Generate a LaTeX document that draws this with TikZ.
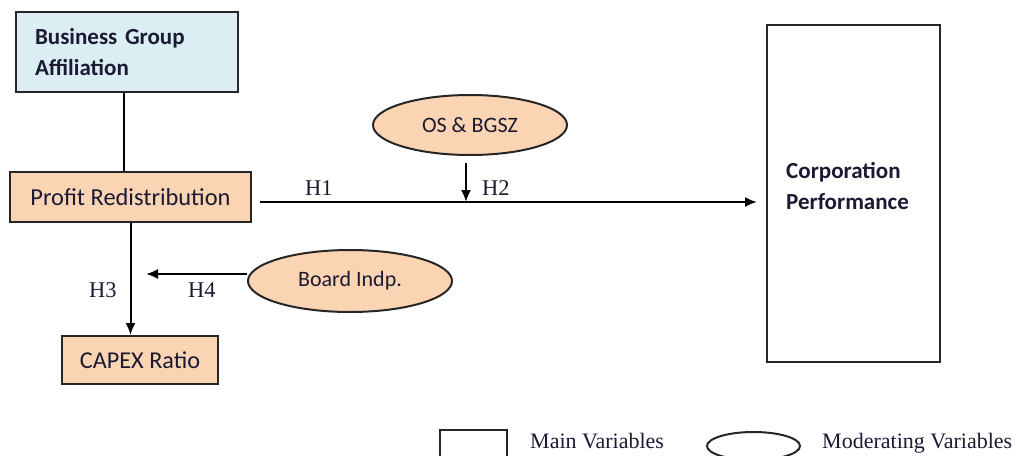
\documentclass[tikz,border=0pt]{standalone}
\usepackage{fontspec}
\setmainfont{Liberation Serif}
\newfontfamily\calfont{Carlito}
\usetikzlibrary{arrows.meta,shapes.geometric,calc}
\definecolor{bluefill}{HTML}{DBEEF4}
\definecolor{orangefill}{HTML}{FBD4B4}
\definecolor{txt}{HTML}{1A1A33}
\tikzset{
  box/.style={draw=black!85, line width=2pt, rectangle, inner sep=0pt, text=txt},
  modvar/.style={draw=black!85, line width=2pt, ellipse, fill=orangefill, inner sep=0pt, text=txt, font=\calfont\fontsize{22}{26}\selectfont},
  conn/.style={line width=2pt, black},
  arr/.style={conn, -{Latex[length=12pt,width=10pt]}},
  hlab/.style={anchor=base west, text=txt, inner sep=0pt, font=\fontsize{22.5}{26}\selectfont},
  leglab/.style={anchor=base west, text=txt, inner sep=0pt, font=\fontsize{22}{26}\selectfont},
}
\begin{document}
\begin{tikzpicture}[x=1pt,y=-1pt]
\useasboundingbox (0,0) rectangle (1016,455);
% main variables
\node[box, fill=bluefill, minimum width=222pt, minimum height=80pt, text width=184pt, align=left,
      font=\calfont\bfseries\fontsize{23}{31}\selectfont] (bga) at (127,52) {Business Group\\Affiliation};
\node[box, fill=orangefill, minimum width=241pt, minimum height=50pt,
      font=\calfont\fontsize{24.4}{28}\selectfont] (pr) at (130.5,197) {Profit Redistribution};
\node[box, fill=orangefill, minimum width=156pt, minimum height=48pt,
      font=\calfont\fontsize{24.2}{28}\selectfont] (capex) at (140,360) {CAPEX Ratio};
\node[box, fill=white, minimum width=173pt, minimum height=337pt] (corp) at (853.5,193.5) {};
\node[anchor=west, align=left, inner sep=0pt, text=txt,
      font=\calfont\bfseries\fontsize{23}{31}\selectfont] (corptext) at ($(corp.west)+(20,-8)$) {Corporation\\Performance};
% moderating variables
\node[modvar, minimum width=194pt, minimum height=60pt] (os) at (470,125) {OS \& BGSZ};
\node[modvar, minimum width=204pt, minimum height=62pt] (board) at (350,281) {Board Indp.};
% connectors
\coordinate (h1s) at (260,202);
\coordinate (h4t) at (146,274);
\draw[conn] ([xshift=-3pt]bga.south) -- ([xshift=-3pt]bga.south |- pr.north);
\draw[arr] (pr.south) -- (pr.south |- capex.north);
\draw[arr, shorten >=9pt] (h1s) -- (h1s -| corp.west);
\coordinate (m2) at (466,202);
\draw[arr] ([yshift=-7pt]m2 |- os.south) -- (m2);
\draw[arr] (board.west |- h4t) -- (h4t);
% hypothesis labels
\node[hlab] (h1) at (305,195) {H1};
\node[hlab] (h2) at (482,195) {H2};
\node[hlab] (h3) at (89,297) {H3};
\node[hlab] (h4) at (188,297) {H4};
% legend
\node[box, minimum width=67pt, minimum height=40pt] (legrect) at (473.5,450) {};
\node[leglab] (legmain) at (530,448) {Main Variables};
\node[draw=black!85, line width=2pt, ellipse, minimum width=93pt, minimum height=28pt, inner sep=0pt] (legell) at (753.5,446) {};
\node[leglab] (legmod) at (822,448) {Moderating Variables};
\end{tikzpicture}
\end{document}
